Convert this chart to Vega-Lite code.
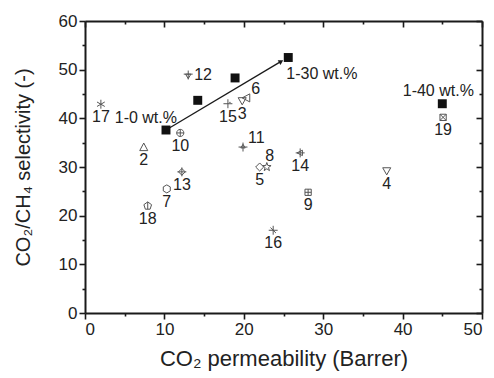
{
  "$schema": "https://vega.github.io/schema/vega-lite/v6.json",
  "width": 397,
  "height": 292,
  "autosize": {"type": "none"},
  "padding": {"left": 85, "top": 21, "right": 12, "bottom": 65},
  "background": "white",
  "config": {
    "view": {"stroke": null},
    "font": "Liberation Sans",
    "axis": {
      "domainColor": "#1a1a1a", "domainWidth": 2, "tickColor": "#1a1a1a", "tickWidth": 1.6,
      "labelFont": "Liberation Sans", "labelFontSize": 17, "labelColor": "#222",
      "titleFont": "Liberation Sans", "titleFontSize": 19, "titleFontWeight": "normal", "titleColor": "#222",
      "grid": false
    },
    "text": {"font": "Liberation Sans", "fontSize": 16, "color": "#222"}
  },
  "datasets": {
    "pts": [
      {"id": "17", "x": 2.0, "y": 42.9, "pos": "b"},
      {"id": "12", "x": 13.0, "y": 48.9, "pos": "r"},
      {"id": "15", "x": 18.0, "y": 43.0, "pos": "b"},
      {"id": "3", "x": 19.8, "y": 43.6, "pos": "b"},
      {"id": "6", "x": 20.3, "y": 44.2, "pos": "ar"},
      {"id": "10", "x": 12.0, "y": 37.0, "pos": "b"},
      {"id": "2", "x": 7.4, "y": 34.1, "pos": "b"},
      {"id": "11", "x": 19.9, "y": 34.1, "pos": "ar"},
      {"id": "8", "x": 22.9, "y": 30.0, "pos": "a"},
      {"id": "5", "x": 22.0, "y": 30.0, "pos": "b"},
      {"id": "13", "x": 12.2, "y": 29.0, "pos": "b"},
      {"id": "7", "x": 10.3, "y": 25.5, "pos": "b"},
      {"id": "18", "x": 7.9, "y": 22.0, "pos": "b"},
      {"id": "16", "x": 23.7, "y": 17.0, "pos": "b"},
      {"id": "14", "x": 27.1, "y": 32.9, "pos": "b"},
      {"id": "9", "x": 28.1, "y": 24.8, "pos": "b"},
      {"id": "4", "x": 38.0, "y": 29.2, "pos": "b"},
      {"id": "19", "x": 45.1, "y": 40.2, "pos": "b"}
    ],
    "sq": [
      {"x": 10.2, "y": 37.6, "lab": "1-0 wt.%"},
      {"x": 14.2, "y": 43.7, "lab": ""},
      {"x": 18.9, "y": 48.3, "lab": ""},
      {"x": 25.6, "y": 52.5, "lab": "1-30 wt.%"},
      {"x": 45.0, "y": 43.0, "lab": "1-40 wt.%"}
    ],
    "arrow": [
      {"x": 10.2, "y": 37.6, "end": false},
      {"x": 24.7, "y": 51.7, "end": true}
    ]
  },
  "layer": [
    {
      "data": {"name": "arrow"},
      "mark": {"type": "line", "color": "#1a1a1a", "strokeWidth": 1.3},
      "encoding": {
        "x": {"field": "x", "type": "quantitative", "scale": {"domain": [0, 50], "nice": false},
          "axis": {"orient": "top", "values": [0,5,10,15,20,25,30,35,40,45,50], "labels": false, "title": null,
            "tickSize": {"condition": {"test": "datum.value % 10 === 0", "value": -6}, "value": -3}}},
        "y": {"field": "y", "type": "quantitative", "scale": {"domain": [0, 60], "nice": false},
          "axis": {"orient": "right", "values": [0,5,10,15,20,25,30,35,40,45,50,55,60], "labels": false, "title": null,
            "tickSize": {"condition": {"test": "datum.value % 10 === 0", "value": -6}, "value": -3}}}
      }
    },
    {
      "data": {"name": "arrow"},
      "transform": [{"filter": "datum.end"}],
      "mark": {"type": "point", "shape": "triangle-up", "filled": true, "color": "#1a1a1a", "size": 30, "angle": 59, "opacity": 1},
      "encoding": {
        "x": {"field": "x", "type": "quantitative", "axis": null},
        "y": {"field": "y", "type": "quantitative", "axis": null}
      }
    },
    {
      "data": {"name": "pts"},
      "mark": {"type": "point", "filled": false, "strokeWidth": 1, "opacity": 1, "size": 80},
      "encoding": {
        "x": {"field": "x", "type": "quantitative",
          "axis": {"orient": "bottom", "values": [0,5,10,15,20,25,30,35,40,45,50],
            "labelExpr": "datum.value % 10 === 0 ? datum.label : ''",
            "tickSize": {"condition": {"test": "datum.value % 10 === 0", "value": 6}, "value": 3},
            "labelPadding": 2, "title": "CO₂ permeability (Barrer)", "titleFontSize": 22, "titlePadding": 11}},
        "y": {"field": "y", "type": "quantitative",
          "axis": {"orient": "left", "values": [0,5,10,15,20,25,30,35,40,45,50,55,60],
            "labelExpr": "datum.value % 10 === 0 ? datum.label : ''",
            "tickSize": {"condition": {"test": "datum.value % 10 === 0", "value": 6}, "value": 3},
            "labelPadding": 2, "title": "CO₂/CH₄ selectivity (-)", "titleFontSize": 20, "titlePadding": 25}},
        "shape": {"field": "id", "type": "nominal", "legend": null,
          "scale": {
            "domain": ["17","12","15","3","6","10","2","11","8","5","13","7","18","16","14","9","4","19"],
            "range": [
              "M0,-1L0,1M-0.87,-0.5L0.87,0.5M-0.87,0.5L0.87,-0.5",
              "M-1,-0.2L1,-0.2M0,-1L0,1M-0.6,-0.2L0.6,-0.2L0,0.8Z",
              "M-1,0L1,0M0,-1L0,1M0.3,-0.3L0.6,-0.3",
              "M-0.9,-0.7L0.9,-0.7L0,0.9Z",
              "M-0.9,0L0.8,-0.9L0.8,0.9Z",
              "M-0.8,0A0.8,0.8 0 1,0 0.8,0A0.8,0.8 0 1,0 -0.8,0ZM-0.8,0L0.8,0M0,-0.8L0,0.8",
              "M0,-0.9L0.9,0.8L-0.9,0.8Z",
              "M-1,0L1,0M0,-1L0,1M-0.5,0.2L0.5,0.2L0,-0.6Z",
              "M0,-1L0.24,-0.33L0.95,-0.31L0.38,0.12L0.59,0.81L0,0.4L-0.59,0.81L-0.38,0.12L-0.95,-0.31L-0.24,-0.33Z",
              "M0,-0.9L0.9,0L0,0.9L-0.9,0Z",
              "M0,-0.75L0.75,0L0,0.75L-0.75,0ZM-1,0L1,0M0,-1L0,1",
              "M0,-0.9L0.78,-0.45L0.78,0.45L0,0.9L-0.78,0.45L-0.78,-0.45Z",
              "M0,-0.9L0.86,-0.28L0.53,0.73L-0.53,0.73L-0.86,-0.28ZM0,-0.9L0,0.73",
              "M-1,0L1,0M0,-1L0,1M-0.6,-0.6L0.6,0.6",
              "M-1,0L1,0M0,-1L0,1M-0.7,0L0.5,-0.6L0.5,0.6Z",
              "M-0.7,-0.7L0.7,-0.7L0.7,0.7L-0.7,0.7ZM-0.7,0L0.7,0M0,-0.7L0,0.7",
              "M-0.9,-0.7L0.9,-0.7L0,0.9Z",
              "M-0.7,-0.7L0.7,-0.7L0.7,0.7L-0.7,0.7ZM-0.7,-0.7L0.7,0.7M0.7,-0.7L-0.7,0.7"
            ]}},
        "color": {"value": "#555"}
      }
    },
    {
      "data": {"name": "sq"},
      "mark": {"type": "square", "filled": true, "color": "#111", "size": 80, "opacity": 1},
      "encoding": {
        "x": {"field": "x", "type": "quantitative", "axis": null},
        "y": {"field": "y", "type": "quantitative", "axis": null}
      }
    },
    {
      "data": {"name": "pts"},
      "transform": [{"filter": "datum.pos === 'b'"}],
      "mark": {"type": "text", "dy": 13, "align": "center", "baseline": "middle"},
      "encoding": {
        "x": {"field": "x", "type": "quantitative", "axis": null},
        "y": {"field": "y", "type": "quantitative", "axis": null},
        "text": {"field": "id"}
      }
    },
    {
      "data": {"name": "pts"},
      "transform": [{"filter": "datum.pos === 'r'"}],
      "mark": {"type": "text", "dx": 6, "dy": 0, "align": "left", "baseline": "middle"},
      "encoding": {
        "x": {"field": "x", "type": "quantitative", "axis": null},
        "y": {"field": "y", "type": "quantitative", "axis": null},
        "text": {"field": "id"}
      }
    },
    {
      "data": {"name": "pts"},
      "transform": [{"filter": "datum.pos === 'ar'"}],
      "mark": {"type": "text", "dx": 5, "dy": -9, "align": "left", "baseline": "middle"},
      "encoding": {
        "x": {"field": "x", "type": "quantitative", "axis": null},
        "y": {"field": "y", "type": "quantitative", "axis": null},
        "text": {"field": "id"}
      }
    },
    {
      "data": {"name": "pts"},
      "transform": [{"filter": "datum.pos === 'a'"}],
      "mark": {"type": "text", "dx": 3, "dy": -11, "align": "center", "baseline": "middle"},
      "encoding": {
        "x": {"field": "x", "type": "quantitative", "axis": null},
        "y": {"field": "y", "type": "quantitative", "axis": null},
        "text": {"field": "id"}
      }
    },
    {
      "data": {"name": "sq"},
      "transform": [{"filter": "datum.lab === '1-0 wt.%'"}],
      "mark": {"type": "text", "dx": 11, "dy": -12, "align": "right", "baseline": "middle"},
      "encoding": {
        "x": {"field": "x", "type": "quantitative", "axis": null},
        "y": {"field": "y", "type": "quantitative", "axis": null},
        "text": {"field": "lab"}
      }
    },
    {
      "data": {"name": "sq"},
      "transform": [{"filter": "datum.lab === '1-30 wt.%'"}],
      "mark": {"type": "text", "dx": -2, "dy": 16, "align": "left", "baseline": "middle"},
      "encoding": {
        "x": {"field": "x", "type": "quantitative", "axis": null},
        "y": {"field": "y", "type": "quantitative", "axis": null},
        "text": {"field": "lab"}
      }
    },
    {
      "data": {"name": "sq"},
      "transform": [{"filter": "datum.lab === '1-40 wt.%'"}],
      "mark": {"type": "text", "dx": -4, "dy": -13, "align": "center", "baseline": "middle"},
      "encoding": {
        "x": {"field": "x", "type": "quantitative", "axis": null},
        "y": {"field": "y", "type": "quantitative", "axis": null},
        "text": {"field": "lab"}
      }
    }
  ],
  "resolve": {"axis": {"x": "independent", "y": "independent"}}
}
